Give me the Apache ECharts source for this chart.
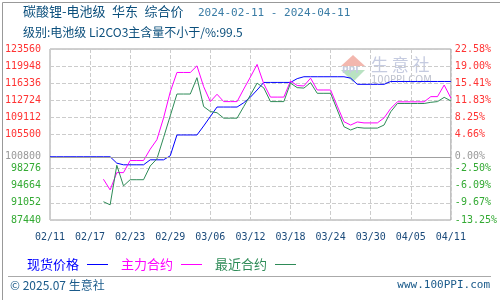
<!DOCTYPE html>
<html><head><meta charset="utf-8">
<script src="https://cdn.jsdelivr.net/npm/echarts@6/dist/echarts.min.js"></script>
<style>html,body{margin:0;padding:0;background:#fff}#c{width:500px;height:300px}</style>
</head><body><div id="c"></div>
<script>
const dates = ['02/11','02/12','02/13','02/14','02/15','02/16','02/17','02/18','02/19','02/20','02/21','02/22','02/23','02/24','02/25','02/26','02/27','02/28','02/29',
'03/01','03/02','03/03','03/04','03/05','03/06','03/07','03/08','03/09','03/10','03/11','03/12','03/13','03/14','03/15','03/16','03/17','03/18','03/19','03/20','03/21','03/22','03/23','03/24','03/25','03/26','03/27','03/28','03/29','03/30','03/31',
'04/01','04/02','04/03','04/04','04/05','04/06','04/07','04/08','04/09','04/10','04/11'];
const spot = [100800,100800,100800,100800,100800,100800,100800,100800,100800,100800,
99450,99100,99100,99100,99100,100150,100150,100150,101000,105400,
105400,105400,105400,107300,109300,111300,111300,111300,111300,112200,
113400,114900,116500,116500,116500,116500,116500,117300,117700,117700,
117700,117700,117700,117700,117700,117400,116100,116100,116100,116100,
116100,116700,116700,116700,116700,116700,116700,116700,116700,116700,116700];
const mainContract = [null,null,null,null,null,null,null,null,96050,93800,
97450,97450,100000,100000,100000,102400,104400,109000,114500,118600,
118600,118600,120000,115600,112450,114000,112450,112450,112450,115100,
117650,120300,116200,113400,113400,113400,116800,115850,115750,117400,
114900,114900,114900,111500,108200,107500,108150,107950,107950,107950,
109000,111000,112400,112400,112400,112400,112400,113500,113500,115950,113200];
const nearContract = [null,null,null,null,null,null,null,null,91300,90650,
99000,94650,95950,95950,95950,98850,100350,104850,109450,114050,
114050,114050,117500,111400,110350,110100,108950,108950,108950,111400,
113850,116350,115350,112450,112450,112450,116350,115400,115300,116450,
114200,114200,114200,110700,107150,106450,107000,106850,106850,106850,
107500,110300,112050,112050,112050,112050,112050,112300,112450,113350,112600];
const seriesNames = ['现货价格','主力合约','最近合约'];
const BASE = 100800;
const Y_MIN = 87440, Y_MAX = 123560, Y_STEP = 3612;
const titleMain = '碳酸锂-电池级\u2002华东\u2002综合价';
const titleDates = '2024-02-11 - 2024-04-11';
const subtitle = '级别:电池级 Li2CO3主含量不小于/%:99.5';

const MONO = "'DejaVu Sans Mono', monospace";
const CJK = "'Noto Sans CJK SC', sans-serif";
const RED = '#ff3333', GREEN = '#33aa33', GRAY = '#999999';
function colorFor(v){ return Math.abs(v-BASE)<1 ? GRAY : (v>BASE ? RED : GREEN); }
const skipTick = Y_MIN + 4*Y_STEP;
const gridColors = [];
for (let i=0;i<=10;i++) gridColors.push(i===4 ? 'rgba(0,0,0,0)' : '#cccccc');

const chart = echarts.init(document.getElementById('c'), null, {renderer:'canvas'});
chart.setOption({
  animation:false,
  backgroundColor:'#fff',
  title:[
    {left:23, top:5, padding:0, text:titleMain,
     textStyle:{fontFamily:CJK,fontSize:13,fontWeight:'normal',color:'#0b4f7c'}},
    {left:198, top:8, padding:0, text:titleDates,
     textStyle:{fontFamily:MONO,fontSize:11,fontWeight:'normal',color:'#3a7ca5'}},
    {left:23, top:26, padding:0, text:subtitle,
     textStyle:{fontFamily:CJK,fontSize:12,fontWeight:'normal',color:'#0b4f7c'}}
  ],
  legend:{
    left:22, top:253, align:'right', icon:'rect', itemWidth:21, itemHeight:1, itemGap:13,
    textStyle:{fontFamily:CJK,fontSize:13,padding:[0,3,0,0]},
    data:[
      {name:seriesNames[0],textStyle:{color:'#0000ff'}},
      {name:seriesNames[1],textStyle:{color:'#ff00ff'}},
      {name:seriesNames[2],textStyle:{color:'#2e8b57'}}
    ]
  },
  grid:{left:50,right:49,top:49,bottom:80,show:true,borderColor:'#a0a0a0',borderWidth:1},
  xAxis:{
    type:'category', data:dates, boundaryGap:false,
    axisLine:{show:false}, axisTick:{show:false},
    axisLabel:{interval:5,margin:12,fontFamily:MONO,fontSize:10,color:'#1a4a7a'},
    splitLine:{show:true,interval:5,lineStyle:{color:'#cccccc',type:'dashed',width:1}}
  },
  yAxis:[{
    type:'value', min:Y_MIN, max:Y_MAX, interval:Y_STEP, position:'left',
    axisLine:{show:false}, axisTick:{show:false},
    axisLabel:{margin:9,fontFamily:MONO,fontSize:10,
      formatter:function(v){ return Math.abs(v-skipTick)<1 ? '' : String(Math.round(v)); },
      color:function(v){ return colorFor(v); }},
    splitLine:{show:true,lineStyle:{color:gridColors,type:'dashed',width:1}}
  },{
    type:'value', min:Y_MIN, max:Y_MAX, interval:Y_STEP, position:'right',
    axisLine:{show:false}, axisTick:{show:false},
    axisLabel:{margin:4,fontFamily:MONO,fontSize:10,
      formatter:function(v){ return Math.abs(v-skipTick)<1 ? '' : ((v-BASE)/BASE*100).toFixed(2)+'%'; },
      color:function(v){ return colorFor(v); }},
    splitLine:{show:false}
  }],
  series:[
    {type:'line', name:'base', data:[], z:1, silent:true,
     markLine:{symbol:'none',silent:true,animation:false,
       lineStyle:{color:'#a0a0a0',type:'solid',width:1},
       data:[
         {yAxis:BASE,label:{show:true,position:'start',distance:9,formatter:String(BASE),fontFamily:MONO,fontSize:10,color:GRAY}},
         {yAxis:BASE,label:{show:true,position:'end',distance:4,formatter:'0.00%',fontFamily:MONO,fontSize:10,color:GRAY}}
       ]}},
    {type:'line', name:seriesNames[0], data:spot, z:3, symbol:'none', lineStyle:{color:'#0000ff',width:1}, itemStyle:{color:'#0000ff'}},
    {type:'line', name:seriesNames[1], data:mainContract, z:3, symbol:'none', connectNulls:false, lineStyle:{color:'#ff00ff',width:1}, itemStyle:{color:'#ff00ff'}},
    {type:'line', name:seriesNames[2], data:nearContract, z:3, symbol:'none', connectNulls:false, lineStyle:{color:'#2e8b57',width:1}, itemStyle:{color:'#2e8b57'}}
  ],
  graphic:[
    {type:'rect',left:0,top:0,shape:{x:0.5,y:0.5,width:499,height:299},style:{fill:'none',stroke:'#999',lineWidth:1},silent:true,z:100},
    {type:'line',shape:{x1:8,y1:276.5,x2:491,y2:276.5},style:{stroke:'#aaaaaa',lineWidth:1},silent:true},
    {type:'text',left:10,top:279,style:{text:'© 2025.07 生意社',font:"12px 'Noto Sans CJK SC', sans-serif",fill:'#1a5a8a'}},
    {type:'text',right:10,top:280,style:{text:'www.100PPI.com',font:"11px 'DejaVu Sans Mono', monospace",fill:'#1a5a8a'}},
    {type:'polygon',shape:{points:[[353,55],[341,66],[365,66]]},style:{fill:'#f3b7ae'},silent:true,z:0},
    {type:'polygon',shape:{points:[[341,70],[365,70],[353,82]]},style:{fill:'#b9e2c2'},silent:true,z:0},
    {type:'text',x:342,y:66,style:{text:'PPI',font:"bold 9px 'DejaVu Sans', sans-serif",fill:'#c5cbe0'},silent:true,z:0},
    {type:'text',x:371,y:56,style:{text:'生 意 社',font:"17px 'Noto Sans CJK SC', sans-serif",fill:'#c5cbe0'},silent:true,z:0},
    {type:'text',x:371,y:75,style:{text:'100PPI.COM',font:"10px 'DejaVu Sans', sans-serif",fill:'#c0c4d0'},silent:true,z:0}
  ]
});
</script></body></html>
